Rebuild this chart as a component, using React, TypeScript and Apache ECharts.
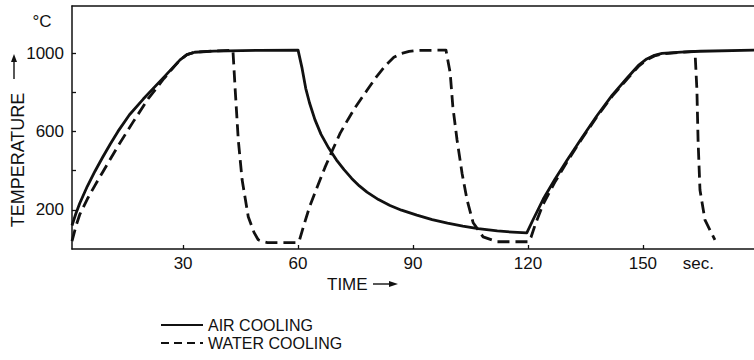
import React, { useEffect, useRef } from "react";
import * as echarts from "echarts";

// Time in seconds, temperature in °C
const airTime = [1, 2, 3, 5, 7, 9, 11, 13, 16, 19.6, 25, 29.2, 31, 33, 38, 50, 60, 61, 62, 63, 64.4, 66, 68, 70, 72, 74, 76, 78, 81, 84, 87, 91, 95, 99, 103, 107, 112, 116, 119.7, 121.3, 124, 127, 130.2, 134, 138, 142, 146, 149, 151, 153, 155, 160, 165, 179];
const airTemp = [120, 180, 232, 320, 397, 468, 536, 600, 685, 765, 877, 965, 992, 1004, 1010, 1014, 1015, 927, 820, 745, 660, 585, 515, 455, 405, 360, 322, 290, 252, 222, 198, 173, 150, 132, 117, 104, 92, 86, 82, 148, 255, 355, 453, 565, 680, 785, 875, 940, 970, 988, 998, 1005, 1009, 1015];

const waterTime = [1, 2, 3, 5, 7, 9, 13, 17, 21, 25, 29.2, 31, 33, 38, 43, 43.6, 44.4, 45.4, 47, 48.5, 49.6, 50.8, 52, 59.8, 60.3, 61.5, 63, 65, 67, 69, 71, 73, 75, 78, 80.5, 83, 85, 87, 89, 91, 98.6, 99.7, 100.4, 101.5, 102.8, 104.1, 105.7, 108.3, 111.9, 120.2, 120.8, 122, 124, 127, 130.2, 134, 138, 142, 146, 149, 151, 153, 155, 160, 163.6, 164.1, 164.4, 164.9, 166.2, 168.8];
const waterTemp = [40, 115, 175, 255, 325, 392, 525, 650, 770, 870, 965, 992, 1004, 1010, 1015, 811, 556, 353, 165, 85, 47, 38, 33, 33, 40, 120, 215, 316, 415, 505, 591, 660, 725, 810, 880, 940, 978, 998, 1008, 1013, 1015, 899, 726, 556, 387, 251, 134, 62, 37, 37, 60, 130, 230, 340, 445, 560, 675, 780, 870, 935, 965, 985, 996, 1004, 1008, 812, 556, 301, 148, 46];

const xTicks = [30, 60, 90, 120, 150];
const yTicks = [200, 400, 600, 800, 1000];
const yLabels = [200, 600, 1000];
const seriesNames = ["AIR COOLING", "WATER COOLING"];

const INK = "#111";
const FONT = "Liberation Sans";

const zip = (xs: number[], ys: number[]) => xs.map((x, i) => [x, ys[i]]);

export default function App() {
  const ref = useRef<HTMLDivElement>(null);
  useEffect(() => {
    if (!ref.current) return;
    const chart = echarts.init(ref.current, null, { renderer: "svg" });
    const legendCommon = {
      orient: "vertical",
      left: 155,
      itemWidth: 42,
      itemHeight: 14,
      itemStyle: { color: "rgba(0,0,0,0)", borderWidth: 0, opacity: 0 },
      textStyle: { fontSize: 16, color: INK, fontFamily: FONT },
    };
    chart.setOption({
      animation: false,
      textStyle: { fontFamily: FONT, color: INK },
      grid: { left: 72, top: 6, right: 0, bottom: 111 },
      legend: [
        { ...legendCommon, top: 312, data: [{ name: seriesNames[0] }] },
        {
          ...legendCommon,
          top: 330,
          data: [{ name: seriesNames[1], lineStyle: { type: [8, 5] } }],
        },
      ],
      xAxis: [
        {
          type: "value",
          min: 1,
          max: 179,
          position: "bottom",
          axisLine: { show: true, lineStyle: { color: INK, width: 1.5 } },
          axisTick: {
            show: true,
            inside: true,
            length: 4,
            customValues: xTicks,
            lineStyle: { color: INK, width: 1.3 },
          },
          axisLabel: {
            customValues: [...xTicks, 164.5],
            formatter: (v: number) => (v === 164.5 ? "sec." : String(v)),
            margin: 6,
            fontSize: 17,
            color: INK,
            fontFamily: FONT,
          },
          splitLine: { show: false },
        },
        {
          type: "value",
          min: 1,
          max: 179,
          position: "top",
          axisLine: { show: true, lineStyle: { color: INK, width: 1.5 } },
          axisTick: { show: false },
          axisLabel: { show: false },
          splitLine: { show: false },
        },
      ],
      yAxis: {
        type: "value",
        min: 0,
        max: 1240,
        axisLine: { show: true, lineStyle: { color: INK, width: 1.5 } },
        axisTick: {
          show: true,
          inside: true,
          length: 4,
          customValues: yTicks,
          lineStyle: { color: INK, width: 1.3 },
        },
        axisLabel: {
          customValues: yLabels,
          formatter: (v: number) => String(v),
          margin: 8,
          fontSize: 17,
          color: INK,
          fontFamily: FONT,
        },
        splitLine: { show: false },
      },
      graphic: [
        {
          type: "text",
          x: 42,
          y: 21,
          style: { text: "°C", fontSize: 17, fontFamily: FONT, fill: INK, align: "center", verticalAlign: "middle" },
        },
        {
          type: "text",
          x: 18,
          y: 160,
          rotation: Math.PI / 2,
          style: { text: "TEMPERATURE", fontSize: 18, fontFamily: FONT, fill: INK, align: "center", verticalAlign: "middle" },
        },
        // vertical arrow (pointing up)
        { type: "line", shape: { x1: 14, y1: 79, x2: 14, y2: 60 }, style: { stroke: INK, lineWidth: 1.4 } },
        { type: "polygon", shape: { points: [[14, 54], [11, 62], [17, 62]] }, style: { fill: INK } },
        {
          type: "text",
          x: 327,
          y: 284,
          style: { text: "TIME", fontSize: 17, fontFamily: FONT, fill: INK, align: "left", verticalAlign: "middle" },
        },
        // horizontal arrow (pointing right)
        { type: "line", shape: { x1: 373, y1: 284, x2: 391, y2: 284 }, style: { stroke: INK, lineWidth: 1.4 } },
        { type: "polygon", shape: { points: [[398, 284], [389, 281], [389, 287]] }, style: { fill: INK } },
      ],
      series: [
        {
          name: seriesNames[0],
          type: "line",
          data: zip(airTime, airTemp),
          showSymbol: false,
          symbol: "none",
          smooth: false,
          lineStyle: { color: INK, width: 2.8, join: "round" },
          itemStyle: { color: INK },
        },
        {
          name: seriesNames[1],
          type: "line",
          data: zip(waterTime, waterTemp),
          showSymbol: false,
          symbol: "none",
          smooth: false,
          lineStyle: { color: INK, width: 2.8, type: [12, 6], join: "round" },
          itemStyle: { color: INK },
        },
      ],
    });
    return () => chart.dispose();
  }, []);
  return (
    <div
      ref={ref}
      style={{ position: "absolute", left: 0, top: 0, width: 754, height: 360, background: "#fff" }}
    />
  );
}
